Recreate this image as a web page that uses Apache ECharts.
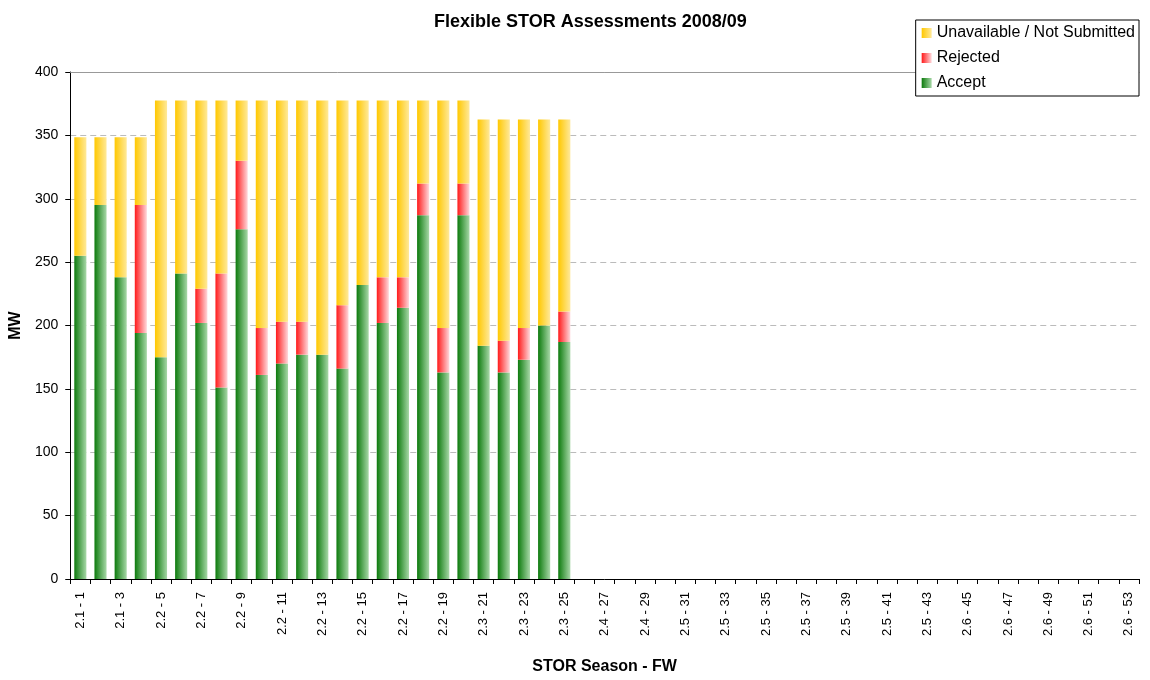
<!DOCTYPE html>
<html lang="en">
<head>
    <meta charset="UTF-8">
    <title>Flexible STOR Assessments 2008/09</title>
    <script type="text/javascript" src="https://cdn.jsdelivr.net/npm/echarts@6/dist/echarts.min.js"></script>
    <style>
        html, body { margin: 0; padding: 0; background: #fff; }
    </style>
</head>
<body>
<div id="chart" style="width: 1150px;height: 680px;"></div>
<script type="text/javascript">
    // STOR season - flexible week, 53 weeks
    var weeks = [
        '2.1 - 1', '2.1 - 2', '2.1 - 3', '2.1 - 4',
        '2.2 - 5', '2.2 - 6', '2.2 - 7', '2.2 - 8', '2.2 - 9', '2.2 - 10', '2.2 - 11', '2.2 - 12',
        '2.2 - 13', '2.2 - 14', '2.2 - 15', '2.2 - 16', '2.2 - 17', '2.2 - 18', '2.2 - 19', '2.2 - 20',
        '2.3 - 21', '2.3 - 22', '2.3 - 23', '2.3 - 24', '2.3 - 25', '2.3 - 26',
        '2.4 - 27', '2.4 - 28', '2.4 - 29', '2.4 - 30',
        '2.5 - 31', '2.5 - 32', '2.5 - 33', '2.5 - 34', '2.5 - 35', '2.5 - 36', '2.5 - 37', '2.5 - 38',
        '2.5 - 39', '2.5 - 40', '2.5 - 41', '2.5 - 42', '2.5 - 43',
        '2.6 - 44', '2.6 - 45', '2.6 - 46', '2.6 - 47', '2.6 - 48', '2.6 - 49', '2.6 - 50',
        '2.6 - 51', '2.6 - 52', '2.6 - 53'
    ];

    // MW values, weeks 1 - 25 (later weeks not assessed yet)
    var accept = [255, 295, 238, 194, 175, 241, 202, 151, 276, 161, 170, 177, 177,
        166, 232, 202, 214, 287, 163, 287, 184, 163, 173, 200, 187];
    var rejected = [0, 0, 0, 101, 0, 0, 27, 90, 54, 37, 33, 26, 0,
        50, 0, 36, 24, 25, 35, 25, 0, 25, 25, 0, 24];
    var unavailable = [93.5, 53.5, 110.5, 53.5, 202.5, 136.5, 148.5, 136.5, 47.5, 179.5, 174.5, 174.5, 200.5,
        161.5, 145.5, 139.5, 139.5, 65.5, 179.5, 65.5, 178.5, 174.5, 164.5, 162.5, 151.5];

    var yTicks = [0, 50, 100, 150, 200, 250, 300, 350, 400];

    var font = 'Liberation Sans, Arial, sans-serif';

    function grad(c1, c2) {
        return new echarts.graphic.LinearGradient(0, 0, 1, 0, [
            {offset: 0, color: c1},
            {offset: 1, color: c2}
        ]);
    }

    function barSeries(name, data, color) {
        return {
            name: name,
            type: 'bar',
            stack: 'mw',
            barWidth: '60%',
            xAxisIndex: 0,
            itemStyle: {color: color},
            emphasis: {disabled: true},
            data: data.map(function (v) { return v === 0 ? '-' : v; })
        };
    }

    var myChart = echarts.init(document.getElementById('chart'));
    var option = {
        backgroundColor: '#fff',
        animation: false,
        textStyle: {fontFamily: font},
        title: {
            text: 'Flexible STOR Assessments 2008/09',
            left: 429,
            top: 8,
            textStyle: {fontFamily: font, fontSize: 18, fontWeight: 'bold', color: '#000'}
        },
        legend: {
            orient: 'vertical',
            right: 11,
            top: 20,
            padding: [5, 4, 5, 6],
            itemWidth: 10,
            itemHeight: 10,
            itemGap: 9,
            icon: 'rect',
            borderColor: '#000',
            borderWidth: 1,
            backgroundColor: '#fff',
            z: 10,
            textStyle: {fontFamily: font, fontSize: 16, color: '#000'},
            data: ['Unavailable / Not Submitted', 'Rejected', 'Accept']
        },
        grid: {
            left: 70,
            right: 11,
            top: 72,
            bottom: 96,
            containLabel: false
        },
        xAxis: [{
            type: 'category',
            data: weeks,
            name: 'STOR Season - FW',
            nameLocation: 'middle',
            nameGap: 80,
            nameTextStyle: {fontFamily: font, fontSize: 16, fontWeight: 'bold', color: '#000'},
            axisLine: {lineStyle: {color: '#000', width: 1}},
            axisTick: {show: true, interval: 0, length: 5, lineStyle: {color: '#000'}},
            axisLabel: {
                rotate: 90,
                interval: 1,
                fontFamily: font,
                fontSize: 13,
                color: '#000',
                margin: 13
            }
        }, {
            type: 'category',
            data: weeks,
            position: 'top',
            axisLine: {lineStyle: {color: '#999', width: 1}},
            axisTick: {show: false},
            axisLabel: {show: false}
        }],
        yAxis: {
            type: 'value',
            min: yTicks[0],
            max: yTicks[yTicks.length - 1],
            interval: 50,
            name: 'MW',
            nameLocation: 'middle',
            nameGap: 44,
            nameRotate: 90,
            nameTextStyle: {fontFamily: font, fontSize: 16, fontWeight: 'bold', color: '#000'},
            axisLine: {show: true, lineStyle: {color: '#000', width: 1}},
            axisTick: {show: true, length: 5, lineStyle: {color: '#000'}},
            axisLabel: {fontFamily: font, fontSize: 14, color: '#000', margin: 12},
            splitLine: {show: true, lineStyle: {color: '#bbb', type: [6, 4], width: 1}}
        },
        series: [
            barSeries('Accept', accept, grad('#0c7a0c', '#a8d8a8')),
            barSeries('Rejected', rejected, grad('#ff1a1a', '#ffd8dc')),
            barSeries('Unavailable / Not Submitted', unavailable, grad('#ffc800', '#ffe99a'))
        ]
    };
    myChart.setOption(option);
</script>
</body>
</html>
